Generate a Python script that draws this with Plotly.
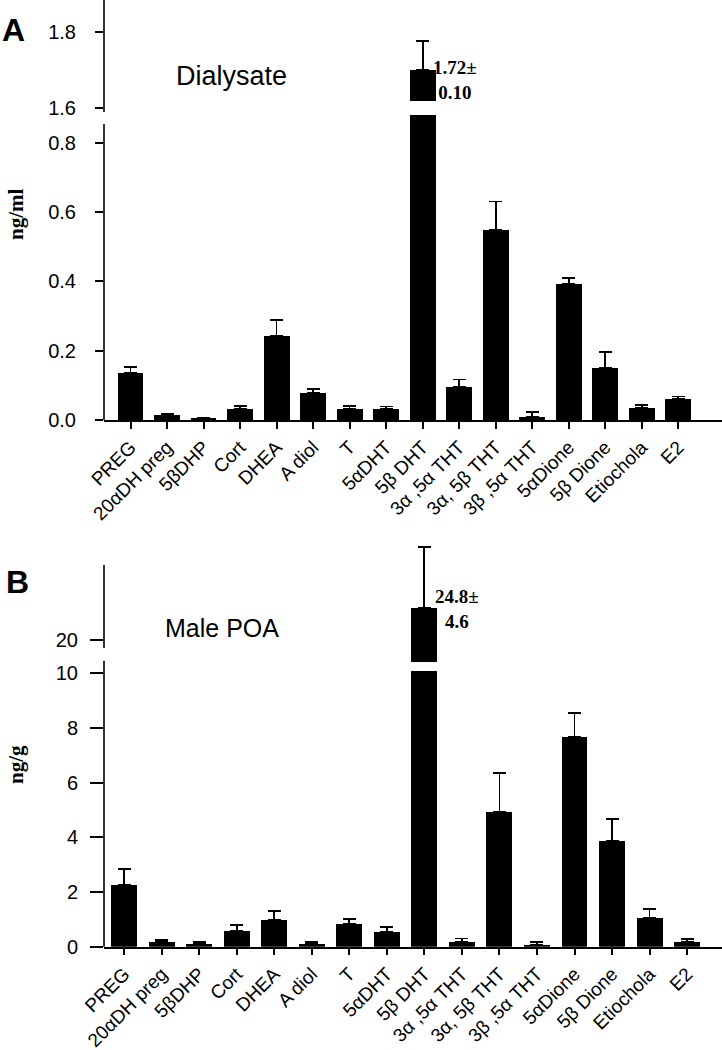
import plotly.graph_objects as go

# ---------------- data ----------------
categories = ["PREG", "20αDH preg", "5βDHP", "Cort", "DHEA", "A diol", "T",
              "5αDHT", "5β DHT", "3α ,5α THT", "3α, 5β THT", "3β ,5α THT",
              "5αDione", "5β Dione", "Etiochola", "E2"]

dialysate_mean = [0.135, 0.015, 0.005, 0.032, 0.242, 0.077, 0.031, 0.031,
                  1.70, 0.096, 0.548, 0.010, 0.392, 0.149, 0.036, 0.060]
dialysate_sem = [0.018, 0.003, 0.002, 0.008, 0.046, 0.012, 0.009, 0.008,
                 0.075, 0.021, 0.082, 0.012, 0.018, 0.047, 0.008, 0.008]

poa_mean = [2.25, 0.16, 0.11, 0.59, 0.98, 0.09, 0.82, 0.54,
            24.8, 0.19, 4.93, 0.07, 7.68, 3.86, 1.06, 0.18]
poa_sem = [0.58, 0.08, 0.07, 0.20, 0.34, 0.07, 0.19, 0.17,
           9.0, 0.11, 1.44, 0.09, 0.88, 0.80, 0.33, 0.11]

label_A = "1.72±<br>0.10"
label_B = "24.8±<br>4.6"

# ---------------- layout helpers ----------------
W, H = 722, 1050
def py(p):
    return 1 - p / H
def px(p):
    return p / W

SANS = "Liberation Sans, Arial, sans-serif"
SERIF = "Liberation Serif, Times New Roman, serif"

fig = go.Figure()

def add_bars(x_ax, y_ax, mean, sem, width):
    fig.add_trace(go.Bar(
        x=categories, y=mean, xaxis=x_ax, yaxis=y_ax,
        marker=dict(color="black", line=dict(width=0)),
        width=width,
        error_y=dict(type="data", array=sem, arrayminus=[0] * len(sem),
                     color="black", thickness=1.8, width=6.5),
        showlegend=False, cliponaxis=True, hoverinfo="skip"))

add_bars("x", "y", dialysate_mean, dialysate_sem, 0.71)
add_bars("x", "y2", dialysate_mean, dialysate_sem, 0.71)
add_bars("x2", "y3", poa_mean, poa_sem, 0.69)
add_bars("x2", "y4", poa_mean, poa_sem, 0.69)

xdom = [px(104), 1.0]
xcommon = dict(showgrid=False, zeroline=False, showline=True, linecolor="black",
               linewidth=1.5, ticks="outside", ticklen=7, tickwidth=1.5,
               tickcolor="black", tickangle=-45, automargin=False,
               tickfont=dict(family=SANS, size=19, color="black"))
ycommon = dict(showgrid=False, zeroline=False, showline=False, ticks="outside",
               tickwidth=1.5, tickcolor="black", automargin=False,
               tickfont=dict(family=SANS, size=20, color="black"))

fig.update_layout(
    width=W, height=H,
    margin=dict(l=0, r=0, t=0, b=0, pad=0, autoexpand=False),
    paper_bgcolor="white", plot_bgcolor="white", bargap=0,
    xaxis=dict(domain=xdom, anchor="y", range=[-0.726, 16.2], **xcommon),
    xaxis2=dict(domain=xdom, anchor="y3", range=[-0.536, 15.93], **xcommon),
    yaxis=dict(domain=[py(420), py(115)], anchor="x", range=[0, 0.8797],
               tickvals=[0, 0.2, 0.4, 0.6, 0.8], tickformat=".1f", ticklen=8,
               ticklabelstandoff=15, **ycommon),
    yaxis2=dict(domain=[py(112), py(0)], anchor="x", range=[1.5904, 1.8828],
                tickvals=[1.6, 1.8], tickformat=".1f", ticklen=8,
                ticklabelstandoff=15, **ycommon),
    yaxis3=dict(domain=[py(946.7), py(671)], anchor="x2", range=[0, 10.09],
                tickvals=[0, 2, 4, 6, 8, 10], ticklen=13,
                ticklabelstandoff=8, **ycommon),
    yaxis4=dict(domain=[py(662), py(540)], anchor="x2", range=[16.73, 34.86],
                tickvals=[20], ticklen=13, ticklabelstandoff=8, **ycommon),
)

# broken y-axis lines
line = dict(color="black", width=1.6)
for y0, y1 in [(112, 0), (420, 124), (648, 565), (946.7, 660.7)]:
    fig.add_shape(type="line", xref="paper", yref="paper",
                  x0=px(104), x1=px(104), y0=py(y0), y1=py(y1), line=line)

# gap in the broken bar of panel A
fig.add_shape(type="rect", xref="x", yref="paper", x0=7.5, x1=8.5,
              y0=py(112), y1=py(101), fillcolor="white", line=dict(width=0),
              layer="above")

ann = [
    dict(text="<b>A</b>", x=px(13), y=py(30), font=dict(family=SANS, size=32)),
    dict(text="<b>B</b>", x=px(17), y=py(582), font=dict(family=SANS, size=32)),
    dict(text="Dialysate", x=px(231), y=py(76), font=dict(family=SANS, size=27)),
    dict(text="Male POA", x=px(222), y=py(628), font=dict(family=SANS, size=25)),
    dict(text="<b>" + label_A + "</b>", x=px(455), y=py(80),
         font=dict(family=SERIF, size=19)),
    dict(text="<b>" + label_B + "</b>", x=px(457), y=py(609),
         font=dict(family=SERIF, size=19)),
    dict(text="<b>ng/ml</b>", x=px(16), y=py(214), textangle=-90,
         font=dict(family=SERIF, size=21)),
    dict(text="<b>ng/g</b>", x=px(16), y=py(765), textangle=-90,
         font=dict(family=SERIF, size=21)),
]
for a in ann:
    a.setdefault("xref", "paper")
    a.setdefault("yref", "paper")
    a["showarrow"] = False
    a["xanchor"] = "center"
    a["yanchor"] = "middle"
    a["align"] = "center"
    a["font"]["color"] = "black"
    fig.add_annotation(**a)

fig.write_html(
    "out.html",
    config={"displayModeBar": False},
    post_script="document.body.style.margin='0';"
                "document.body.style.overflow='hidden';")
